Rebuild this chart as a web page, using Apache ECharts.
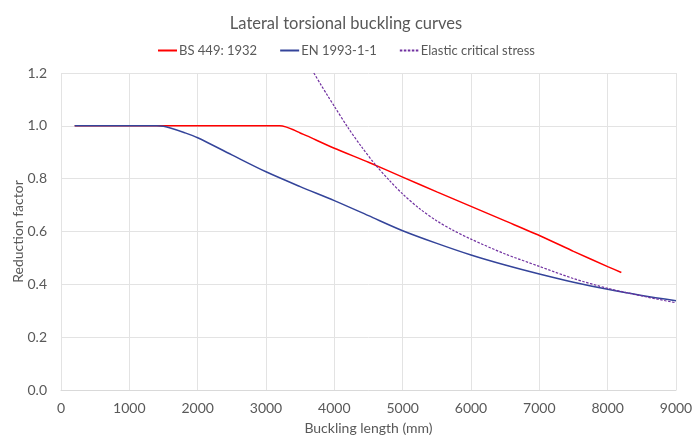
<!DOCTYPE html>
<html><head><meta charset="utf-8">
<script src="https://cdn.jsdelivr.net/npm/echarts@6/dist/echarts.min.js"></script>
<style>html,body{margin:0;padding:0;background:#fff}#c{width:692px;height:437px}</style>
</head><body><div id="c"></div>
<script>
const bsLength = [200, 1000, 2000, 3000, 3200, 3300, 3400, 3500, 3600, 4000, 4500, 5000, 5500, 6000, 6500, 7000, 7500, 8000, 8200];
const bsValue  = [1.0, 1.0, 1.0, 1.0, 1.0, 0.995, 0.985, 0.973, 0.962, 0.915, 0.862, 0.806, 0.75, 0.695, 0.64, 0.585, 0.525, 0.467, 0.445];
const enLength = [200, 1000, 1400, 1500, 1600, 1800, 2000, 2500, 3000, 3500, 4000, 4500, 5000, 5500, 6000, 6500, 7000, 7500, 8000, 8500, 9000];
const enValue  = [1.0, 1.0, 1.0, 0.998, 0.992, 0.975, 0.955, 0.89, 0.826, 0.77, 0.717, 0.66, 0.603, 0.555, 0.511, 0.473, 0.439, 0.408, 0.381, 0.358, 0.338];
const ecLength = [3700, 3800, 3900, 4000, 4200, 4400, 4600, 4800, 5000, 5250, 5500, 5750, 6000, 6500, 7000, 7500, 8000, 8500, 9000];
const ecValue  = [1.2, 1.157, 1.115, 1.074, 0.993, 0.92, 0.853, 0.795, 0.742, 0.686, 0.64, 0.603, 0.571, 0.515, 0.468, 0.422, 0.385, 0.356, 0.330];
const xTicks = [0, 1000, 2000, 3000, 4000, 5000, 6000, 7000, 8000, 9000];
const yTicks = [0.0, 0.2, 0.4, 0.6, 0.8, 1.0, 1.2];

const zip = (a, b) => a.map((v, i) => [v, b[i]]);
const font = "Lato, sans-serif";
const txt = '#595959';
const chart = echarts.init(document.getElementById('c'), null, {renderer: 'canvas'});
chart.setOption({
  animation: false,
  textStyle: {fontFamily: font},
  title: {text: 'Lateral torsional buckling curves', left: 'center', top: 10,
    textStyle: {fontFamily: font, fontSize: 16.5, fontWeight: 'normal', color: txt}},
  legend: {top: 39, left: 'center', itemWidth: 19, itemHeight: 10, itemGap: 22,
    itemStyle: {color: 'transparent', borderWidth: 0, opacity: 0},
    textStyle: {fontFamily: font, fontSize: 13, color: txt, padding: [0, 0, 0, -3]},
    data: ['BS 449: 1932', 'EN 1993-1-1', 'Elastic critical stress']},
  grid: {left: 61, right: 16, top: 73, bottom: 47, containLabel: false, outerBoundsMode: 'none'},
  xAxis: {type: 'value', min: xTicks[0], max: xTicks[xTicks.length - 1], interval: 1000,
    name: 'Buckling length (mm)', nameLocation: 'middle', nameGap: 31, nameMoveOverlap: false,
    nameTextStyle: {fontFamily: font, fontSize: 14, color: txt},
    axisLine: {show: true, lineStyle: {color: '#d9d9d9'}}, axisTick: {show: false},
    axisLabel: {fontFamily: font, fontSize: 14, color: txt, margin: 11, formatter: v => String(v)},
    splitLine: {show: true, lineStyle: {color: '#e3e3e3'}}},
  yAxis: {type: 'value', min: yTicks[0], max: yTicks[yTicks.length - 1], interval: 0.2,
    name: 'Reduction factor', nameLocation: 'middle', nameGap: 36, nameMoveOverlap: false,
    nameTextStyle: {fontFamily: font, fontSize: 14, color: txt},
    axisLine: {show: false}, axisTick: {show: false},
    axisLabel: {fontFamily: font, fontSize: 14, color: txt, margin: 14, formatter: v => v.toFixed(1)},
    splitLine: {show: true, lineStyle: {color: '#e3e3e3'}}},
  series: [
    {name: 'BS 449: 1932', type: 'line', data: zip(bsLength, bsValue), smooth: 0.2, symbol: 'none',
      lineStyle: {color: '#ff0000', width: 1.5}, itemStyle: {color: '#ff0000'}},
    {name: 'EN 1993-1-1', type: 'line', data: zip(enLength, enValue), smooth: 0.3, symbol: 'none',
      lineStyle: {color: '#34449a', width: 1.5}, itemStyle: {color: '#34449a'}},
    {name: 'Elastic critical stress', type: 'line', data: zip(ecLength, ecValue), smooth: 0.3, symbol: 'none',
      lineStyle: {color: '#7030a0', width: 1.2, type: [2.5, 1.5]}, itemStyle: {color: '#7030a0'}}
  ]
});
</script></body></html>
